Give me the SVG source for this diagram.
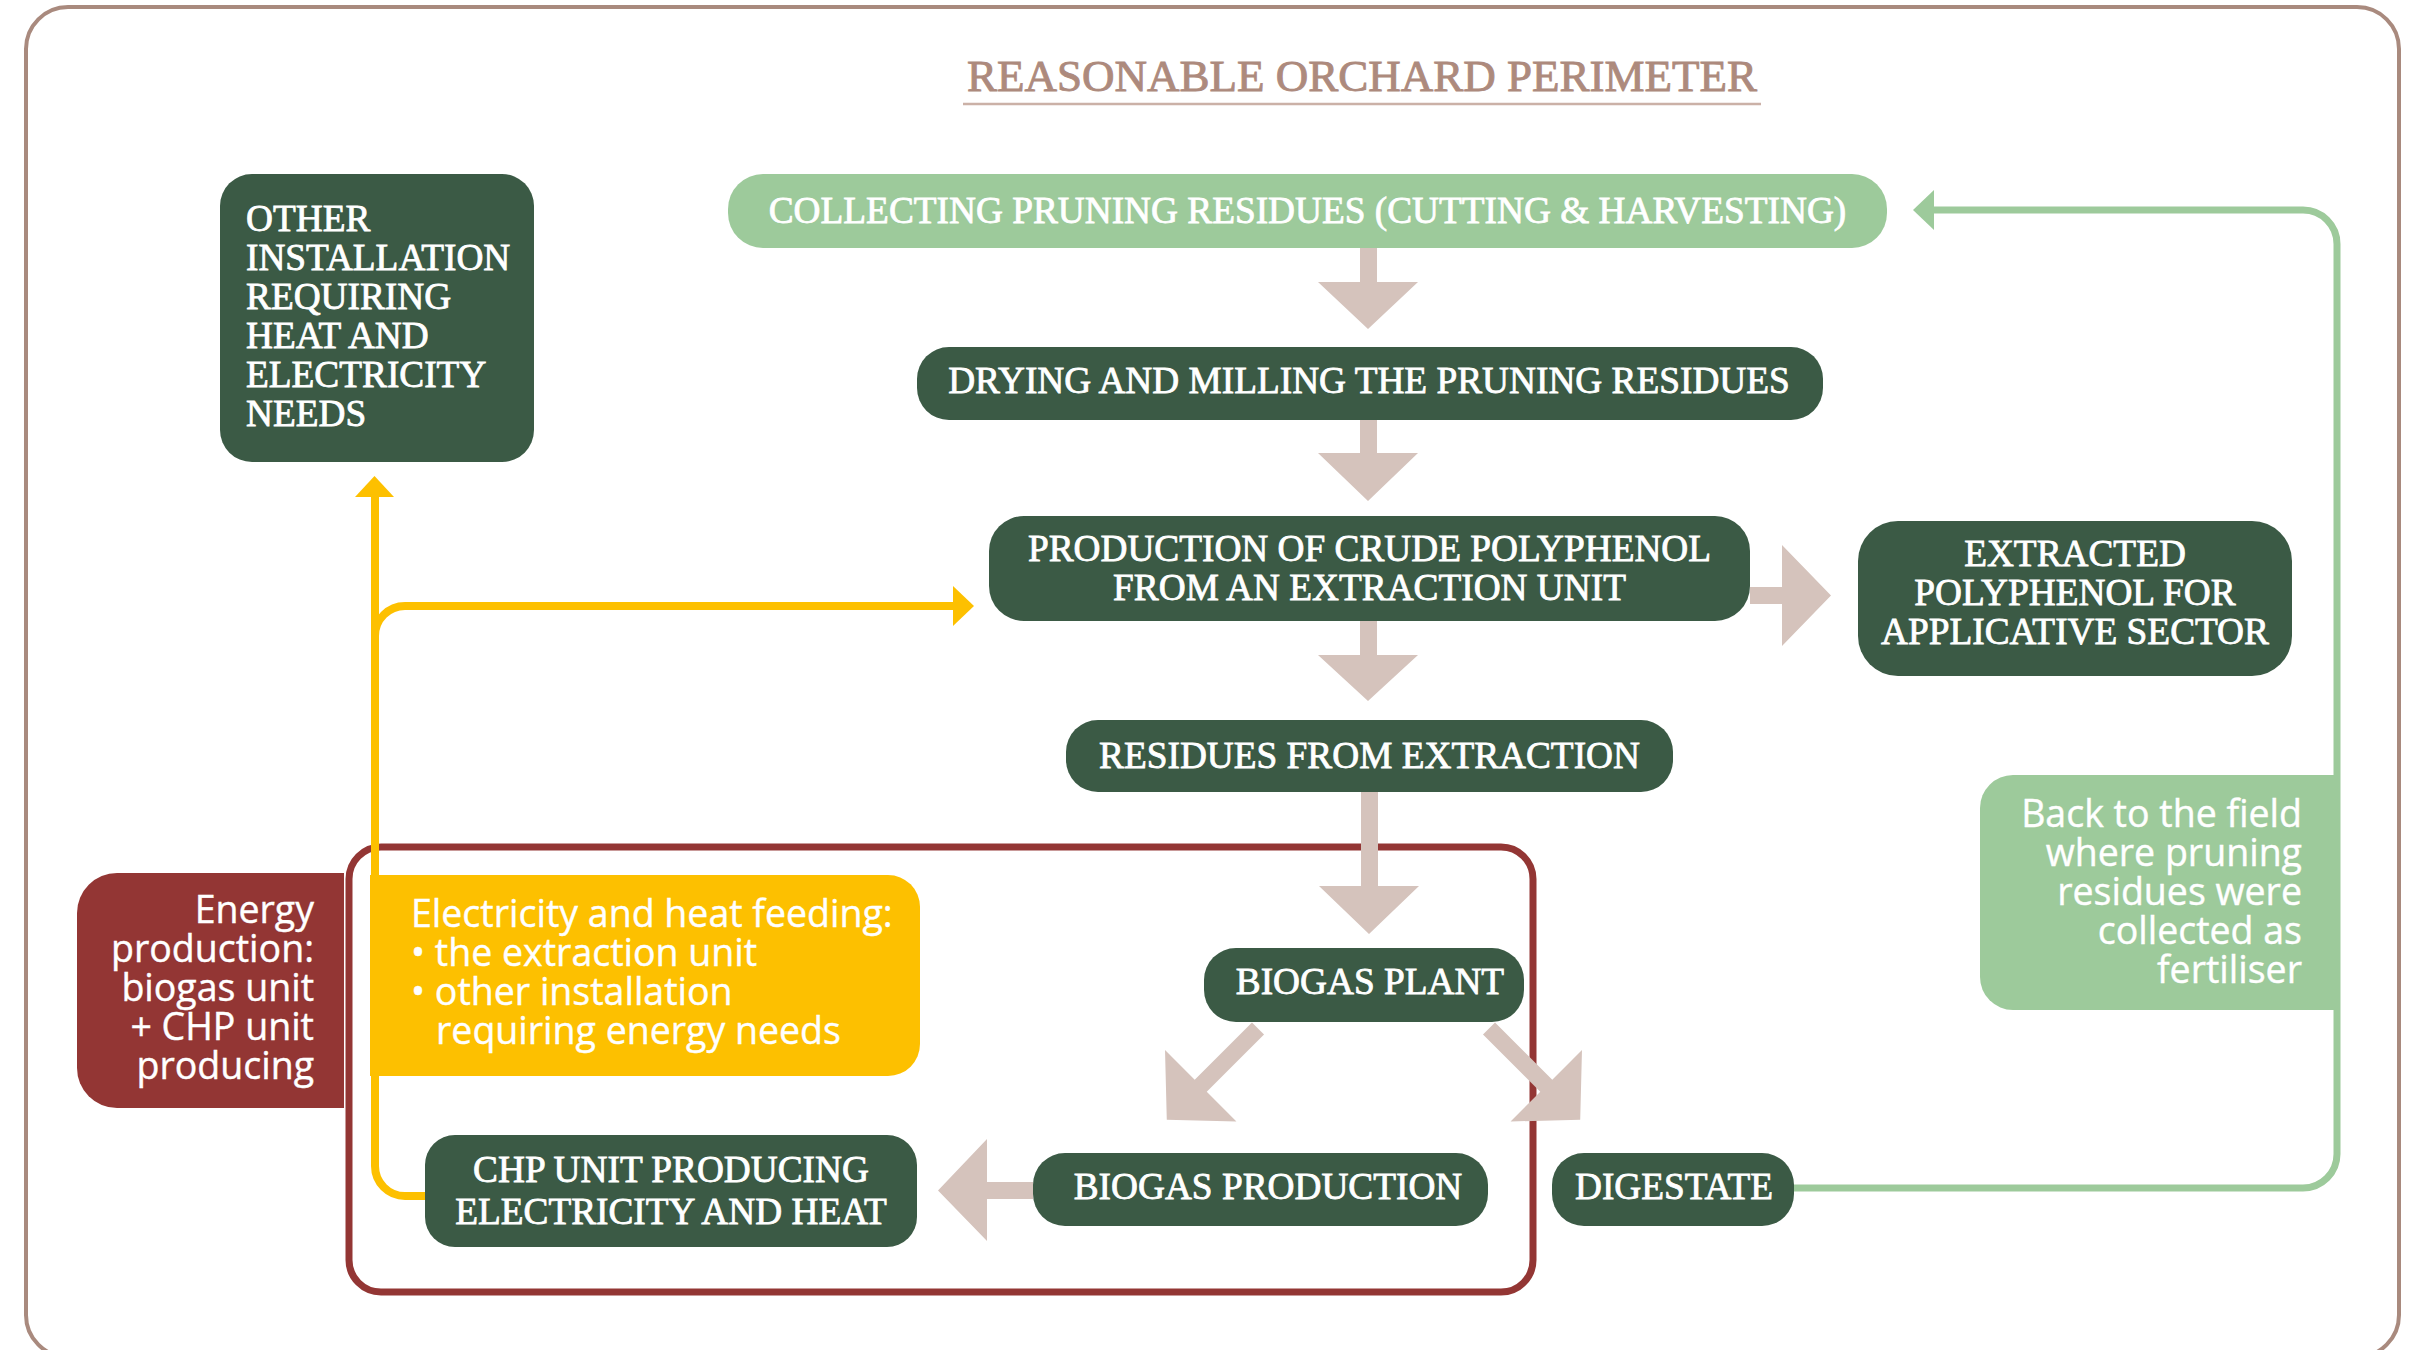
<svg xmlns="http://www.w3.org/2000/svg" width="2416" height="1350" viewBox="0 0 2416 1350">
<defs>
<style>
.serif{font-family:"Liberation Serif","Times New Roman",serif;font-size:37.3px;fill:#ffffff;stroke:#ffffff;stroke-width:0.8px;}
.sans{font-family:"Open Sans","Noto Sans","Liberation Sans",sans-serif;font-size:37.5px;fill:#ffffff;stroke:#ffffff;stroke-width:0.4px;}
.mid{text-anchor:middle;}
.end{text-anchor:end;}
.dark{fill:#3b5a45;}
.light{fill:#9dca9b;}
.beige{fill:#d5c3bc;}
.yline{fill:none;stroke:#fdc000;stroke-width:8;}
.gline{fill:none;stroke:#9dca9b;stroke-width:7;}
</style>
<polygon id="diag" points="0,-8.5 81,-8.5 81,-50.5 129,0 81,50.5 81,8.5 0,8.5"/>
</defs>
<rect x="0" y="0" width="2416" height="1350" fill="#ffffff"/>
<rect id="perimeter" x="26" y="7" width="2373" height="1350" rx="42" fill="none" stroke="#a98a7e" stroke-width="4"/>
<g id="title">
<text x="1362" y="91" text-anchor="middle" font-family="Liberation Serif, serif" font-size="45" fill="#ad8a7d" stroke="#ad8a7d" stroke-width="0.9">REASONABLE ORCHARD PERIMETER</text>
<line x1="963" y1="104" x2="1761" y2="104" stroke="#cbb1a7" stroke-width="2.5"/>
</g>
<rect id="energy-frame" x="349" y="847" width="1184" height="445" rx="32" fill="none" stroke="#933634" stroke-width="7"/>
<g id="energy-production">
<path d="M344,873 H117 A40,40 0 0 0 77,913 V1068 A40,40 0 0 0 117,1108 H344 Z" fill="#933634"/>
<text class="sans end" x="314" y="923">Energy</text>
<text class="sans end" x="314" y="962">production:</text>
<text class="sans end" x="314" y="1001">biogas unit</text>
<text class="sans end" x="314" y="1040">+ CHP unit</text>
<text class="sans end" x="314" y="1079">producing</text>
</g>
<g id="feeding">
<path d="M370,875 H888 A32,32 0 0 1 920,907 V1044 A32,32 0 0 1 888,1076 H370 Z" fill="#fdc000"/>
<text class="sans" x="411" y="927">Electricity and heat feeding:</text>
<text class="sans" x="411" y="966">• the extraction unit</text>
<text class="sans" x="411" y="1005">• other installation</text>
<text class="sans" x="436" y="1044">requiring energy needs</text>
</g>
<g id="back-to-field">
<path d="M2340,775 H2013 A33,33 0 0 0 1980,808 V977 A33,33 0 0 0 2013,1010 H2340 Z" class="light"/>
<text class="sans end" x="2302" y="827">Back to the field</text>
<text class="sans end" x="2302" y="866">where pruning</text>
<text class="sans end" x="2302" y="905">residues were</text>
<text class="sans end" x="2302" y="944">collected as</text>
<text class="sans end" x="2302" y="983">fertiliser</text>
</g>
<g id="connectors">
<path class="yline" d="M425,1196 H405 A30,30 0 0 1 375,1166 V494"/>
<polygon points="374.5,476 355,497 394,497" fill="#fdc000"/>
<path class="yline" d="M375,636 A30,30 0 0 1 405,606 H956"/>
<polygon points="974,606 953,586 953,626" fill="#fdc000"/>
<path class="gline" d="M1794,1188 H2303 A34,34 0 0 0 2337,1154 V244 A34,34 0 0 0 2303,210 H1930"/>
<polygon points="1913,210 1934,190 1934,230" fill="#9dca9b"/>
<polygon class="beige" points="1360,248 1377,248 1377,282 1418,282 1368,329 1318,282 1360,282"/>
<polygon class="beige" points="1360,420 1377,420 1377,453 1418,453 1368,501 1318,453 1360,453"/>
<polygon class="beige" points="1360,621 1377,621 1377,655 1418,655 1368,701 1318,655 1360,655"/>
<polygon class="beige" points="1361,792 1378,792 1378,886 1419,886 1369,934 1319,886 1361,886"/>
<polygon class="beige" points="1750,587 1782,587 1782,545 1831,595.5 1782,646 1782,604 1750,604"/>
<polygon class="beige" points="1033,1182 987,1182 987,1139 938,1190.5 987,1241 987,1199 1033,1199"/>
<use href="#diag" class="beige" transform="translate(1258,1028.5) rotate(135)"/>
<use href="#diag" class="beige" transform="translate(1489,1028.5) rotate(45)"/>
</g>
<g id="collecting">
<rect x="728" y="174" width="1159" height="74" rx="35" class="light"/>
<text class="serif mid" x="1307.5" y="223">COLLECTING PRUNING RESIDUES (CUTTING &amp; HARVESTING)</text>
</g>
<g id="drying">
<rect x="917" y="347" width="906" height="73" rx="32" class="dark"/>
<text class="serif mid" x="1369" y="393">DRYING AND MILLING THE PRUNING RESIDUES</text>
</g>
<g id="production">
<rect x="989" y="516" width="761" height="105" rx="35" class="dark"/>
<text class="serif mid" x="1369.5" y="561">PRODUCTION OF CRUDE POLYPHENOL</text>
<text class="serif mid" x="1369.5" y="600">FROM AN EXTRACTION UNIT</text>
</g>
<g id="extracted">
<rect x="1858" y="521" width="434" height="155" rx="40" class="dark"/>
<text class="serif mid" x="2075" y="566">EXTRACTED</text>
<text class="serif mid" x="2075" y="605">POLYPHENOL FOR</text>
<text class="serif mid" x="2075" y="644">APPLICATIVE SECTOR</text>
</g>
<g id="other-installation">
<rect x="220" y="174" width="314" height="288" rx="32" class="dark"/>
<text class="serif" x="246" y="231">OTHER</text>
<text class="serif" x="246" y="270">INSTALLATION</text>
<text class="serif" x="246" y="309">REQUIRING</text>
<text class="serif" x="246" y="348">HEAT AND</text>
<text class="serif" x="246" y="387">ELECTRICITY</text>
<text class="serif" x="246" y="426">NEEDS</text>
</g>
<g id="residues">
<rect x="1066" y="720" width="607" height="72" rx="32" class="dark"/>
<text class="serif mid" x="1369.5" y="768">RESIDUES FROM EXTRACTION</text>
</g>
<g id="biogas-plant">
<rect x="1204" y="948" width="320" height="74" rx="32" class="dark"/>
<text class="serif mid" x="1370" y="994">BIOGAS PLANT</text>
</g>
<g id="biogas-production">
<rect x="1033" y="1153" width="455" height="73" rx="32" class="dark"/>
<text class="serif mid" x="1268" y="1199">BIOGAS PRODUCTION</text>
</g>
<g id="digestate">
<rect x="1552" y="1153" width="242" height="73" rx="32" class="dark"/>
<text class="serif mid" x="1674" y="1199">DIGESTATE</text>
</g>
<g id="chp">
<rect x="425" y="1135" width="492" height="112" rx="30" class="dark"/>
<text class="serif mid" x="671" y="1182">CHP UNIT PRODUCING</text>
<text class="serif mid" x="671" y="1224">ELECTRICITY AND HEAT</text>
</g>
</svg>
